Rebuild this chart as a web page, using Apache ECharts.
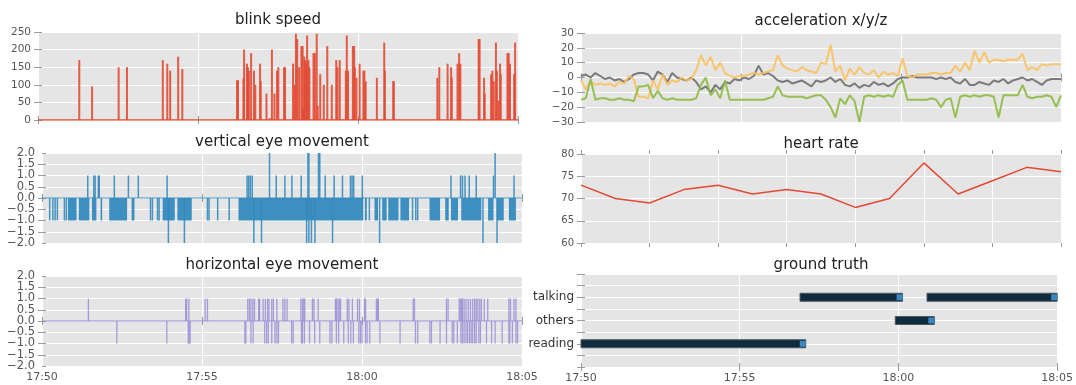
<!DOCTYPE html>
<html><head><meta charset="utf-8">
<script src="https://cdn.jsdelivr.net/npm/echarts@6/dist/echarts.min.js"></script>
<style>html,body{margin:0;padding:0;background:#fff}#c{width:1076px;height:385px}</style>
</head><body><div id="c"></div>
<script>
// ---------------- data (time in minutes after 17:50) ----------------
const xTickLabels = ['17:50', '17:55', '18:00', '18:05'];
const panelTitles = ['blink speed', 'vertical eye movement', 'horizontal eye movement', 'acceleration x/y/z', 'heart rate', 'ground truth'];

const blinkTimes = [1.29,1.69,2.52,2.78,3.90,4.04,4.13,4.38,4.51,
  6.22,6.25,6.42,6.44,6.53,6.56,6.59,6.66,6.75,6.79,
  6.94,6.96,7.14,7.24,7.31,7.39,7.47,7.51,7.69,7.72,
  7.97,8.02,8.06,8.10,8.16,8.23,8.27,8.30,8.32,8.35,
  8.39,8.41,8.45,8.48,8.61,8.65,8.71,8.74,8.82,8.93,
  9.04,9.18,9.32,9.36,9.43,9.62,9.65,9.69,9.84,9.88,
  9.90,9.95,10.05,10.17,10.20,10.24,10.59,10.82,10.84,11.10,
  11.12,12.48,12.54,12.80,12.91,12.93,13.11,13.16,13.20,13.77,
  13.80,13.94,13.96,14.16,14.20,14.24,14.31,14.34,14.39,14.44,
  14.46,14.67,14.71,14.75,14.88,14.91];
const blinkSpeed = [170,95,150,150,170,160,140,180,145,
  113,113,118,200,160,150,140,190,140,100,
  160,110,75,5,200,75,140,150,150,150,
  160,100,245,230,150,210,210,30,180,170,
  160,240,170,150,190,190,245,40,130,100,
  210,100,170,150,170,140,240,140,210,210,
  150,120,160,140,140,110,120,220,140,110,
  110,120,150,160,150,120,160,190,160,230,
  230,120,75,130,140,110,220,140,55,160,
  130,190,190,160,130,220];

// vertical eye movement: dense stretches at -1, and single excursions
const vertBlockStart = [0.81,1.15,1.56,1.83,2.10,2.80,3.77,4.23,6.14,10.09,10.39,10.63,10.82,11.20,12.11,12.60,12.78,13.10,13.94,14.21,14.59];
const vertBlockEnd   = [1.08,1.48,1.70,1.88,2.66,2.89,4.15,4.68,10.04,10.15,10.50,10.77,11.14,11.47,12.44,12.71,13.00,13.73,14.11,14.43,14.81];
const vertBlockLevel = -1;
const vertDownTimes  = [0.24,0.34,0.41,0.48,0.70,0.76,3.39,3.45,3.61,3.66,5.17,5.22,5.49,5.85,10.23,11.58,11.68,11.74];
const vertUpTimes    = [1.43,1.62,1.66,1.76,1.79,2.26,2.70,3.01,3.91,6.41,6.46,6.51,6.57,7.32,7.59,7.81,8.10,8.85,9.13,9.39,9.64,9.69,9.74,10.01,12.78,13.08,13.14,13.22,13.35,13.57,14.11,14.75];
const vertUp2Times   = [7.11,8.31,8.34,8.64,8.68,14.16];
const vertDown2Times = [3.95,4.45,6.62,6.86,8.27,8.34,8.42,8.53,9.08,10.55,13.78,14.22];

// horizontal eye movement excursions
const horizUpTimes = [1.45,4.49,4.52,4.59,5.10,5.17,6.43,6.48,6.53,6.59,6.64,6.77,6.80,6.91,6.98,7.05,7.09,7.18,7.23,7.34,
  7.53,7.59,7.66,8.09,8.14,8.18,8.21,8.45,8.50,8.63,9.17,9.20,9.25,9.29,9.33,9.54,9.59,9.70,9.86,9.92,
  10.08,10.11,10.45,10.49,10.51,11.60,11.64,12.64,12.69,13.04,13.07,13.11,13.14,13.19,13.25,13.32,13.39,13.46,13.52,13.57,
  13.62,13.68,13.73,13.82,13.93,14.59,14.64,14.75,14.81];
const horizDownTimes = [2.34,3.90,4.57,4.60,4.63,6.34,6.37,6.53,6.60,6.96,7.02,7.07,7.18,7.28,7.34,7.39,7.80,7.85,8.11,8.14,
  8.20,8.36,8.52,8.68,9.00,9.06,9.20,9.27,9.43,9.57,9.65,9.73,9.90,9.95,10.00,10.11,10.16,10.24,10.56,11.19,
  11.67,11.74,12.12,12.17,12.44,12.64,12.82,12.87,12.98,13.09,13.14,13.19,13.25,13.30,13.36,13.41,13.46,13.52,13.57,13.65,
  13.70,13.89,14.05,14.16,14.38,14.59,14.62,14.70,14.81,14.86];

// acceleration samples
const accelTimes = [0,0.15,0.3,0.45,0.6,0.75,0.9,1.05,1.2,1.35,1.5,1.65,1.8,1.95,2.1,2.25,2.4,2.55,2.7,2.85,
  3,3.15,3.3,3.45,3.6,3.75,3.9,4.05,4.2,4.35,4.5,4.65,4.8,4.95,5.1,5.25,5.4,5.55,5.7,5.85,
  6,6.15,6.3,6.45,6.6,6.75,6.9,7.05,7.2,7.35,7.5,7.65,7.8,7.95,8.1,8.25,8.4,8.55,8.7,8.85,
  9,9.15,9.3,9.45,9.6,9.75,9.9,10.05,10.2,10.35,10.5,10.65,10.8,10.95,11.1,11.25,11.4,11.55,11.7,11.85,
  12,12.15,12.3,12.45,12.6,12.75,12.9,13.05,13.2,13.35,13.5,13.65,13.8,13.95,14.1,14.25,14.4,14.55,14.7,14.85,15];
const accelX = [1,2,0,3,1,-1,0,-2,-1,-3, -1,2,3,3,2,-2,4,2,-3,3, 0,-1,-2,0,-3,-8,-6,-10,-5,-8,
  -3,-4,-1,-2,0,-1,1,8,2,3, 1,-2,-3,-2,-4,-3,-2,-4,-6,-2, -3,-2,0,-3,-1,-5,-6,-4,-7,-5,
  -6,-3,-5,-4,-6,-4,-1,0,0,1, 0,0,0,0,-1,0,-1,0,-3,-4, -1,-5,-5,-3,-4,-5,-2,-3,-1,-4,
  -2,-1,0,-2,-1,-3,-5,-2,-1,-1, -1];
const accelY = [-2,-8,-3,-5,-4,-5,-4,-6,-3,-4, 1,-1,-13,-13,-14,-2,-8,2,-5,-2, -3,0,-2,-1,5,15,8,14,5,10,
  3,1,0,1,1,2,3,2,3,4, 5,15,8,6,5,4,7,5,4,3, 10,9,22,4,8,-2,6,2,7,3,
  2,5,0,4,2,3,1,13,1,0, 2,2,2,3,3,2,3,3,8,4, 10,5,18,10,17,10,12,12,11,12,
  12,12,16,5,7,5,9,8,9,9, 9];
const accelZ = [-15,-14,-1,-15,-14,-14,-15,-15,-14,-15, -15,-16,-6,-6,-5,-14,-9,-14,-15,-14, -15,-15,-15,-15,-14,-5,0,-12,-8,-14,
  -2,-15,-15,-15,-15,-15,-15,-15,-15,-14, -13,-6,-12,-13,-13,-13,-13,-14,-13,-12, -12,-15,-20,-27,-14,-18,-12,-16,-30,-13,
  -12,-13,-12,-13,-12,-13,-5,-2,-15,-15, -15,-15,-15,-14,-15,-20,-15,-14,-27,-13, -12,-13,-12,-13,-12,-12,-13,-27,-12,-12,
  -12,-12,-5,-13,-14,-13,-13,-12,-13,-20, -12];

// heart rate, one sample per step
const heartRate = [73,70,69,72,73,71,72,71,68,70,78,71,74,77,76];

// ground truth
const gtCategories = ['reading', 'others', 'talking'];
const gtStart = [0, 6.9, 9.9, 10.9];
const gtEnd = [7.08, 10.13, 11.13, 15];
const gtActivity = ['reading', 'talking', 'others', 'talking'];

// ---------------- styling ----------------
const FONT = 'DejaVu Sans';
const C_RED = '#e24a33', C_BLUE = '#348abd', C_PURPLE = '#988ed5', C_GREY = '#6f6f6f', C_YEL = '#fbc15e', C_GRN = '#8eba42';

const gridBoxes = [
  {left: 38, top: 32, width: 480, height: 88},
  {left: 42, top: 153, width: 480, height: 90},
  {left: 42, top: 276, width: 480, height: 90},
  {left: 581, top: 33, width: 480, height: 89},
  {left: 581, top: 154, width: 480, height: 89},
  {left: 581, top: 274, width: 480, height: 93}
];
const grid = gridBoxes.map(b => Object.assign({show: true, backgroundColor: '#e5e5e5', borderWidth: 0, containLabel: false}, b));

const tickStyle = {show: true, length: 4, lineStyle: {color: '#9a9a9a', width: 1}};
function minus(s) { return s.replace('-', '\u2212'); }
const timeFmt = v => xTickLabels[Math.round(v / 5)] || '';

const xAxis = [], yAxis = [];
function addX(i, min, max, interval, showLabels, fmt) {
  xAxis.push({type: 'value', gridIndex: i, min, max, interval, position: 'bottom',
    axisLine: {show: false}, axisTick: tickStyle,
    axisLabel: {show: showLabels, formatter: fmt, color: '#555', fontSize: 11, fontFamily: FONT, margin: 6, showMinLabel: true, showMaxLabel: true},
    splitLine: {show: true, lineStyle: {color: '#ffffff', width: 1}}});
}
function addY(i, min, max, interval, fmt, fontSize, color, endLabels) {
  yAxis.push({type: 'value', gridIndex: i, min, max, interval, position: 'left',
    axisLine: {show: false}, axisTick: tickStyle,
    axisLabel: {formatter: fmt, color: color || '#555', fontSize, fontFamily: FONT, margin: 7,
      showMinLabel: endLabels !== false, showMaxLabel: endLabels !== false},
    splitLine: {show: true, lineStyle: {color: '#ffffff', width: 1}}});
}
const eyeFmt = v => minus(v.toFixed(1));
const intFmt = v => minus(String(v));
const gtFmt = v => { const k = Math.round(v * 2); return (k % 2 === 0 && gtCategories[k / 2 - 1]) ? gtCategories[k / 2 - 1] : ''; };

addX(0, 0, 15, 5, false, timeFmt); addY(0, 0, 250, 50, intFmt, 10.5);
addX(1, 0, 15, 5, false, timeFmt); addY(1, -2, 2, 0.5, eyeFmt, 11.5, null, false);
addX(2, 0, 15, 5, true, timeFmt);  addY(2, -2, 2, 0.5, eyeFmt, 11.5, null, false);
addX(3, 0, 15, 5, false, timeFmt); addY(3, -30, 30, 10, intFmt, 10.5);
addX(4, 0, heartRate.length - 1, 2, false, null); addY(4, 60, 80, 5, intFmt, 10);
addX(5, 0, 15, 5, true, timeFmt);  addY(5, 0, 4, 0.5, gtFmt, 12, '#333');
// mirrored tick-only axes (top / right)
for (let i = 0; i < 6; i++) {
  const bx = xAxis[i], by = yAxis[i];
  xAxis.push({type: 'value', gridIndex: i, min: bx.min, max: bx.max, interval: bx.interval, position: 'top',
    axisLine: {show: false}, axisTick: tickStyle, axisLabel: {show: false}, splitLine: {show: false}});
  yAxis.push({type: 'value', gridIndex: i, min: by.min, max: by.max, interval: by.interval, position: 'right',
    axisLine: {show: false}, axisTick: tickStyle, axisLabel: {show: false}, splitLine: {show: false}});
}
// end labels (±2.0) of the eye panels on their own label-only axes
[1, 2].forEach(i => {
  yAxis.push({type: 'value', gridIndex: i, min: -2, max: 2, interval: 4, position: 'left',
    axisLine: {show: false}, axisTick: {show: false}, splitLine: {show: false},
    axisLabel: {formatter: eyeFmt, color: '#555', fontSize: 11.5, fontFamily: FONT, margin: 7, showMinLabel: true, showMaxLabel: true}});
});

// ---------------- renderers ----------------
function spikeRenderer(color, w, opacity) {
  return function (params, api) {
    const t = api.value(0), v = api.value(1);
    const a = api.coord([t, 0]), b = api.coord([t, v]);
    return {type: 'rect', shape: {x: a[0] - w / 2, y: Math.min(a[1], b[1]), width: w, height: Math.abs(b[1] - a[1])},
      style: {fill: color, opacity: opacity}};
  };
}
function blockRenderer(color, opacity) {
  return function (params, api) {
    const a = api.coord([api.value(0), 0]), b = api.coord([api.value(1), api.value(2)]);
    return {type: 'rect', shape: {x: a[0], y: Math.min(a[1], b[1]), width: Math.max(1, b[0] - a[0]), height: Math.abs(b[1] - a[1])},
      style: {fill: color, opacity: opacity}};
  };
}
function gtRenderer(params, api) {
  const y = api.value(2);
  const a = api.coord([api.value(0), y]), b = api.coord([api.value(1), y]);
  const cs = params.coordSys, clip = {x: cs.x, y: cs.y, width: cs.width, height: cs.height};
  const h = 8;
  const bar = echarts.graphic.clipRectByRect({x: a[0], y: a[1] - h / 2, width: b[0] - a[0], height: h}, clip);
  const sq = echarts.graphic.clipRectByRect({x: b[0] - 6, y: a[1] - 3, width: 6, height: 6}, clip);
  const children = [];
  if (bar) children.push({type: 'rect', shape: bar, style: {fill: '#0f2b3c', stroke: '#4c5963', lineWidth: 1}});
  if (sq) children.push({type: 'rect', shape: sq, style: {fill: '#3a87c2'}});
  return {type: 'group', children};
}

const pairs = (ts, vs) => ts.map((t, k) => [t, vs[k]]);
const level = (ts, v) => ts.map(t => [t, v]);
const baseline = (i, color, width, opacity) => ({type: 'line', xAxisIndex: i, yAxisIndex: i, data: [[0, 0], [15, 0]],
  showSymbol: false, silent: true, lineStyle: {color, width, opacity}, z: 1});

const series = [
  baseline(0, C_RED, 1.5, 1),
  {type: 'custom', xAxisIndex: 0, yAxisIndex: 0, renderItem: spikeRenderer(C_RED, 2, 0.9), data: pairs(blinkTimes, blinkSpeed), encode: {x: 0, y: 1}, z: 2},

  baseline(1, C_BLUE, 1.5, 0.6),
  {type: 'custom', xAxisIndex: 1, yAxisIndex: 1, renderItem: blockRenderer(C_BLUE, 0.95),
    data: vertBlockStart.map((s, k) => [s, vertBlockEnd[k], vertBlockLevel]), encode: {x: [0, 1], y: 2}, z: 2},
  {type: 'custom', xAxisIndex: 1, yAxisIndex: 1, renderItem: spikeRenderer(C_BLUE, 1.5, 0.9),
    data: level(vertDownTimes, -1).concat(level(vertUpTimes, 1), level(vertUp2Times, 2), level(vertDown2Times, -2)), encode: {x: 0, y: 1}, z: 3},

  baseline(2, C_PURPLE, 1.5, 0.7),
  {type: 'custom', xAxisIndex: 2, yAxisIndex: 2, renderItem: spikeRenderer(C_PURPLE, 1.3, 0.85),
    data: level(horizUpTimes, 1).concat(level(horizDownTimes, -1)), encode: {x: 0, y: 1}, z: 2},

  {type: 'line', xAxisIndex: 3, yAxisIndex: 3, data: pairs(accelTimes, accelX), showSymbol: false, lineStyle: {color: C_GREY, width: 2, opacity: 0.9}},
  {type: 'line', xAxisIndex: 3, yAxisIndex: 3, data: pairs(accelTimes, accelY), showSymbol: false, lineStyle: {color: C_YEL, width: 2, opacity: 0.9}},
  {type: 'line', xAxisIndex: 3, yAxisIndex: 3, data: pairs(accelTimes, accelZ), showSymbol: false, lineStyle: {color: C_GRN, width: 2, opacity: 0.9}},

  {type: 'line', xAxisIndex: 4, yAxisIndex: 4, data: heartRate.map((v, k) => [k, v]), showSymbol: false, lineStyle: {color: C_RED, width: 1.5}},

  {type: 'custom', xAxisIndex: 5, yAxisIndex: 5, renderItem: gtRenderer,
    data: gtStart.map((s, k) => [s, gtEnd[k], gtCategories.indexOf(gtActivity[k]) + 1]), encode: {x: [0, 1], y: 2}, z: 2}
];

const titleY = [20, 142, 265, 21, 144, 265];
const graphic = panelTitles.map((t, i) => ({type: 'text', x: gridBoxes[i].left + gridBoxes[i].width / 2, y: titleY[i],
  style: {text: t, fill: '#222', font: '15px "' + FONT + '"', textAlign: 'center', textVerticalAlign: 'middle'}, silent: true}));

const chart = echarts.init(document.getElementById('c'), null, {renderer: 'canvas'});
chart.setOption({animation: false, backgroundColor: '#ffffff', grid, xAxis, yAxis, series, graphic});
</script></body></html>
